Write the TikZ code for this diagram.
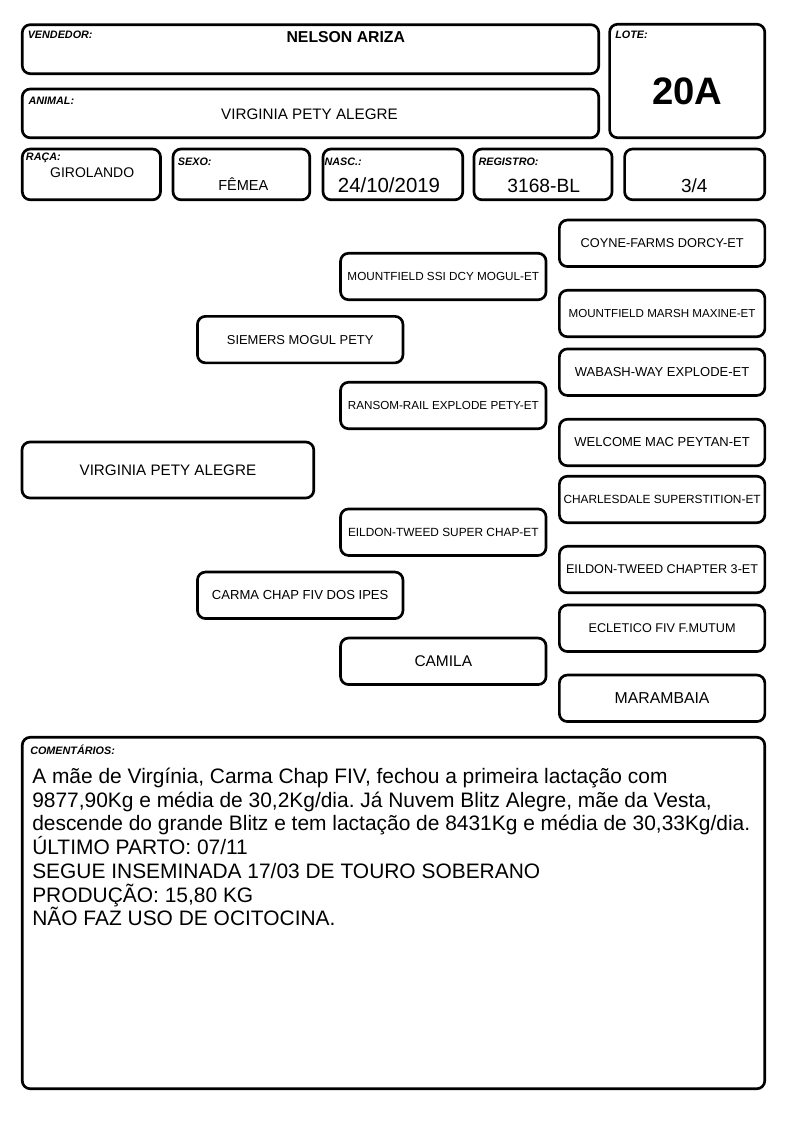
\documentclass[tikz,border=0pt]{standalone}
\usepackage{fontspec}
\setmainfont{Liberation Sans}
\frenchspacing

\tikzset{
  box/.style = {draw, line width=2pt, rounded corners=6pt, fill=white, inner sep=0pt},
  sz/.style 2 args = {minimum width=#1*0.75pt, minimum height=#2*0.75pt},
  ped/.style = {box, sz={205.5}{46.5}, font=\fontsize{#1}{#1}\selectfont},
  lbl/.style = {anchor=west, inner sep=0pt, font=\fontsize{8.1}{9}\selectfont\bfseries\itshape},
  val/.style = {inner sep=0pt, font=\fontsize{#1}{#1}\selectfont},
  bval/.style = {inner sep=0pt, font=\fontsize{#1}{#1}\selectfont\bfseries},
}

\begin{document}
\begin{tikzpicture}[x=0.75pt, y=-0.75pt]
\useasboundingbox (0,0) rectangle (794,1123);

% header
\node[box, sz={576.5}{49}] (vend) at (310.5,49.2) {};
\node[box, sz={576.5}{48.8}] (anim) at (310.5,113.4) {};
\node[box, sz={155.2}{113.5}] (lote) at (687.2,81) {};
\node[box, sz={138.2}{50.8}] (raca) at (91.4,174.4) {};
\node[box, sz={136.8}{50.8}] (sexo) at (241.4,174.4) {};
\node[box, sz={139.8}{50.8}] (nasc) at (392.9,174.4) {};
\node[box, sz={138.1}{50.8}] (reg) at (543,174.4) {};
\node[box, sz={140.2}{50.8}] (grau) at (694.7,174.4) {};

\node[lbl] (vendl) at (27.5,35) {VENDEDOR:};
\node[lbl] (animl) at (28.3,100.3) {ANIMAL:};
\node[lbl] (lotel) at (615,35) {LOTE:};
\node[lbl] (racal) at (25.7,157.8) {RAÇA:};
\node[lbl] (sexol) at (177.7,161.5) {SEXO:};
\node[lbl] (nascl) at (324.3,161.5) {NASC.:};
\node[lbl] (regl) at (478.3,161.7) {REGISTRO:};

\node[bval=11.85] (vendv) at (345.8,37.5) {NELSON ARIZA};
\node[val=11.4] (animv) at (309.5,114.7) {VIRGINIA PETY ALEGRE};
\node[bval=28.7] (lotev) at (687.5,91.2) {20A};
\node[val=10.5] (racav) at (92.2,172.2) {GIROLANDO};
\node[val=10.9] (sexov) at (243.3,183.7) {FÊMEA};
\node[val=15.3] (nascv) at (389,185) {24/10/2019};
\node[val=14.4] (regv) at (543.7,185.8) {3168-BL};
\node[val=14.2] (grauv) at (694.2,186) {3/4};

% pedigree
\node[box, sz={291.8}{56}, font=\fontsize{11.4}{12}\selectfont] (anim0) at (167.9,470) {VIRGINIA PETY ALEGRE};

\node[ped=9.7] (pai) at (300.2,339.6) {SIEMERS MOGUL PETY};
\node[ped=9.8] (mae) at (300.2,595.3) {CARMA CHAP FIV DOS IPES};

\node[ped=8.8] (avop) at (443.3,276.5) {MOUNTFIELD SSI DCY MOGUL-ET};
\node[ped=8.75] (avap) at (443.3,405.5) {RANSOM-RAIL EXPLODE PETY-ET};
\node[ped=8.9] (avom) at (443.3,532.2) {EILDON-TWEED SUPER CHAP-ET};
\node[ped=11.6] (avam) at (443.3,661.3) {CAMILA};

\node[ped=9.6] (bis1) at (662.1,243.3) {COYNE-FARMS DORCY-ET};
\node[ped=8.7] (bis2) at (662.1,313.5) {MOUNTFIELD MARSH MAXINE-ET};
\node[ped=9.75] (bis3) at (662.1,372.2) {WABASH-WAY EXPLODE-ET};
\node[ped=9.75] (bis4) at (662.1,442.5) {WELCOME MAC PEYTAN-ET};
\node[ped=8.9] (bis5) at (662.1,499.5) {CHARLESDALE SUPERSTITION-ET};
\node[ped=9.5] (bis6) at (662.1,569.5) {EILDON-TWEED CHAPTER 3-ET};
\node[ped=9.5] (bis7) at (662.1,628.3) {ECLETICO FIV F.MUTUM};
\node[ped=11.85] (bis8) at (662.1,698.3) {MARAMBAIA};

% comentarios
\node[box, sz={742.5}{351.5}] (com) at (393.5,913) {};
\node[lbl] (coml) at (30,749.5) {COMENTÁRIOS:};

\foreach \l [count=\i] in {
  {A mãe de Virgínia, Carma Chap FIV, fechou a primeira lactação com},
  {9877,90Kg e média de 30,2Kg/dia. Já Nuvem Blitz Alegre, mãe da Vesta,},
  {descende do grande Blitz e tem lactação de 8431Kg e média de 30,33Kg/dia.},
  {ÚLTIMO PARTO: 07/11},
  {SEGUE INSEMINADA 17/03 DE TOURO SOBERANO},
  {PRODUÇÃO: 15,80 KG},
  {NÃO FAZ USO DE OCITOCINA.}}
{ \node[val=15.7, anchor=base west] (com\i) at (32, {783.5+23.7*(\i-1)}) {\l}; }

\end{tikzpicture}
\end{document}
